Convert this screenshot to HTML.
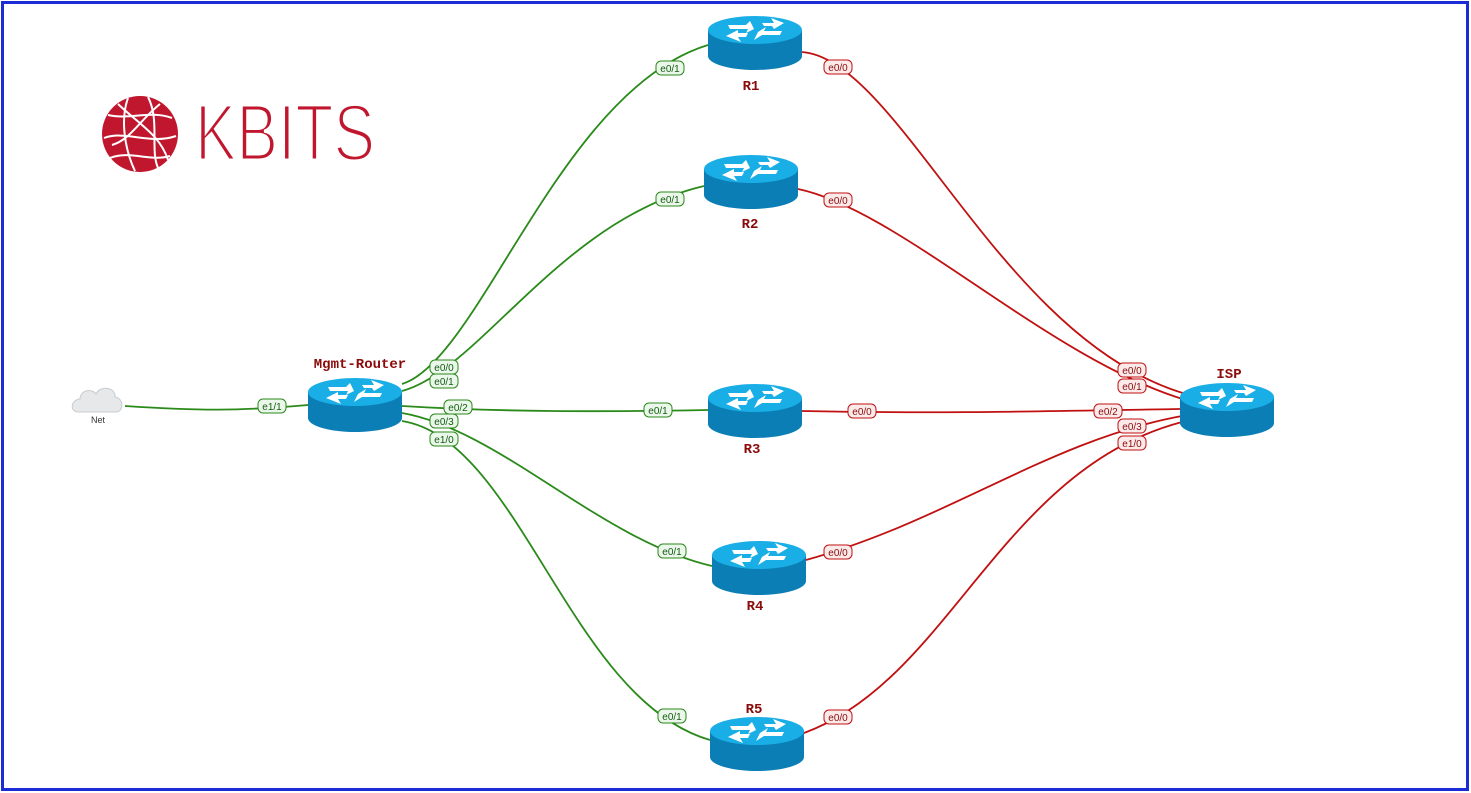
<!DOCTYPE html>
<html><head><meta charset="utf-8"><style>
html,body{margin:0;padding:0;background:#fff;}
svg{display:block;}
.lbl text{font-family:"Liberation Sans",sans-serif;font-size:10px;text-anchor:middle;}
.nm{font-family:"Liberation Mono",monospace;font-weight:bold;font-size:14px;fill:#8b0a0a;text-anchor:middle;}
</style></head><body>
<svg width="1471" height="793" viewBox="0 0 1471 793" xmlns="http://www.w3.org/2000/svg">
<defs>
<g id="rt">
<path d="M0,14 L0,40 A47,14 0 0 0 94,40 L94,14 Z" fill="#0b7fb5"/>
<ellipse cx="47" cy="14" rx="47" ry="14" fill="#1aaee6"/>
<g fill="#fff">
<polygon points="20,9 38,9 42,5 46,13 38,17 40,13 22,13"/>
<polygon points="50,16 58,11 56,15 74,15 72,19 54,19 46,24"/>
<polygon points="54,7 66,7 63,2 76,7 66,13 64,10 56,10"/>
<polygon points="38,21 30,21 33,26 18,20 30,14 30,17 40,17"/>
</g>
</g>
</defs>
<rect x="2.5" y="2.5" width="1465" height="787" fill="#fff" stroke="#1b2bd6" stroke-width="3"/>

<circle cx="140" cy="134" r="38" fill="#c0172e"/>
<g stroke="#fff" stroke-width="2" fill="none">
<path d="M108,115 C130,120 150,110 172,118"/>
<path d="M104,138 C125,130 150,145 176,136"/>
<path d="M110,158 C130,150 150,162 170,156"/>
<path d="M128,98 C120,120 125,150 135,171"/>
<path d="M148,97 C160,120 150,150 158,168"/>
<path d="M118,104 C140,125 160,135 168,160"/>
<path d="M112,145 C130,140 140,120 160,104"/>
</g>
<text x="195" y="160" font-family="Liberation Sans,sans-serif" font-size="80" fill="#c0172e" textLength="180" lengthAdjust="spacingAndGlyphs" style="stroke:#fff;stroke-width:3px">KBITS</text>

<g stroke="#2a8a1a" stroke-width="1.8" fill="none">
<path d="M125,406 C200,411 240,411 308,405"/>
<path d="M402,384 C480,360 560,90 708,45"/>
<path d="M402,391 C480,370 560,220 704,186"/>
<path d="M402,406 C500,412 600,412 708,410"/>
<path d="M402,413 C500,430 600,540 712,566"/>
<path d="M402,421 C520,440 570,700 710,740"/>
</g>
<g stroke="#c01010" stroke-width="1.8" fill="none">
<path d="M802,52 C900,60 1000,340 1186,394"/>
<path d="M798,189 C900,210 1050,360 1186,400"/>
<path d="M802,411 C950,414 1050,411 1180,409"/>
<path d="M806,560 C950,520 1050,440 1182,416"/>
<path d="M804,733 C950,680 1000,470 1182,422"/>
</g>

<g>
<path d="M78,412 C70,412 70,400 80,399 C80,390 92,388 96,394 C100,385 116,387 115,397 C124,398 124,412 116,412 Z" fill="#e6e8ea" stroke="#c8cccf"/>
<text x="98" y="423" font-family="Liberation Sans,sans-serif" font-size="9" fill="#333" text-anchor="middle">Net</text>
</g>

<use href="#rt" x="308" y="378"/>
<use href="#rt" x="708" y="16"/>
<use href="#rt" x="704" y="155"/>
<use href="#rt" x="708" y="384"/>
<use href="#rt" x="712" y="541"/>
<use href="#rt" x="710" y="717"/>
<use href="#rt" x="1180" y="383"/>

<text class="nm" x="360" y="368">Mgmt-Router</text>
<text class="nm" x="751" y="90">R1</text>
<text class="nm" x="750" y="228">R2</text>
<text class="nm" x="752" y="453">R3</text>
<text class="nm" x="755" y="610">R4</text>
<text class="nm" x="754" y="713">R5</text>
<text class="nm" x="1229" y="378">ISP</text>

<g class="lbl">
<g fill="#eaf7ea" stroke="#2a8a1a" stroke-width="1">
<rect x="258" y="399" width="28" height="14" rx="5"/>
<rect x="430" y="360" width="28" height="14" rx="5"/>
<rect x="430" y="374" width="28" height="14" rx="5"/>
<rect x="444" y="400" width="28" height="14" rx="5"/>
<rect x="430" y="414" width="28" height="14" rx="5"/>
<rect x="430" y="432" width="28" height="14" rx="5"/>
<rect x="656" y="61" width="28" height="14" rx="5"/>
<rect x="656" y="192" width="28" height="14" rx="5"/>
<rect x="644" y="403" width="28" height="14" rx="5"/>
<rect x="658" y="544" width="28" height="14" rx="5"/>
<rect x="658" y="709" width="28" height="14" rx="5"/>
</g>
<g fill="#145c10">
<text x="272" y="410">e1/1</text>
<text x="444" y="371">e0/0</text>
<text x="444" y="385">e0/1</text>
<text x="458" y="411">e0/2</text>
<text x="444" y="425">e0/3</text>
<text x="444" y="443">e1/0</text>
<text x="670" y="72">e0/1</text>
<text x="670" y="203">e0/1</text>
<text x="658" y="414">e0/1</text>
<text x="672" y="555">e0/1</text>
<text x="672" y="720">e0/1</text>
</g>
<g fill="#fbeaea" stroke="#c01010" stroke-width="1">
<rect x="824" y="60" width="28" height="14" rx="5"/>
<rect x="824" y="193" width="28" height="14" rx="5"/>
<rect x="848" y="404" width="28" height="14" rx="5"/>
<rect x="824" y="545" width="28" height="14" rx="5"/>
<rect x="824" y="710" width="28" height="14" rx="5"/>
<rect x="1118" y="363" width="28" height="14" rx="5"/>
<rect x="1118" y="379" width="28" height="14" rx="5"/>
<rect x="1094" y="404" width="28" height="14" rx="5"/>
<rect x="1118" y="419" width="28" height="14" rx="5"/>
<rect x="1118" y="436" width="28" height="14" rx="5"/>
</g>
<g fill="#8b0a0a">
<text x="838" y="71">e0/0</text>
<text x="838" y="204">e0/0</text>
<text x="862" y="415">e0/0</text>
<text x="838" y="556">e0/0</text>
<text x="838" y="721">e0/0</text>
<text x="1132" y="374">e0/0</text>
<text x="1132" y="390">e0/1</text>
<text x="1108" y="415">e0/2</text>
<text x="1132" y="430">e0/3</text>
<text x="1132" y="447">e1/0</text>
</g>
</g>
</svg>
</body></html>
